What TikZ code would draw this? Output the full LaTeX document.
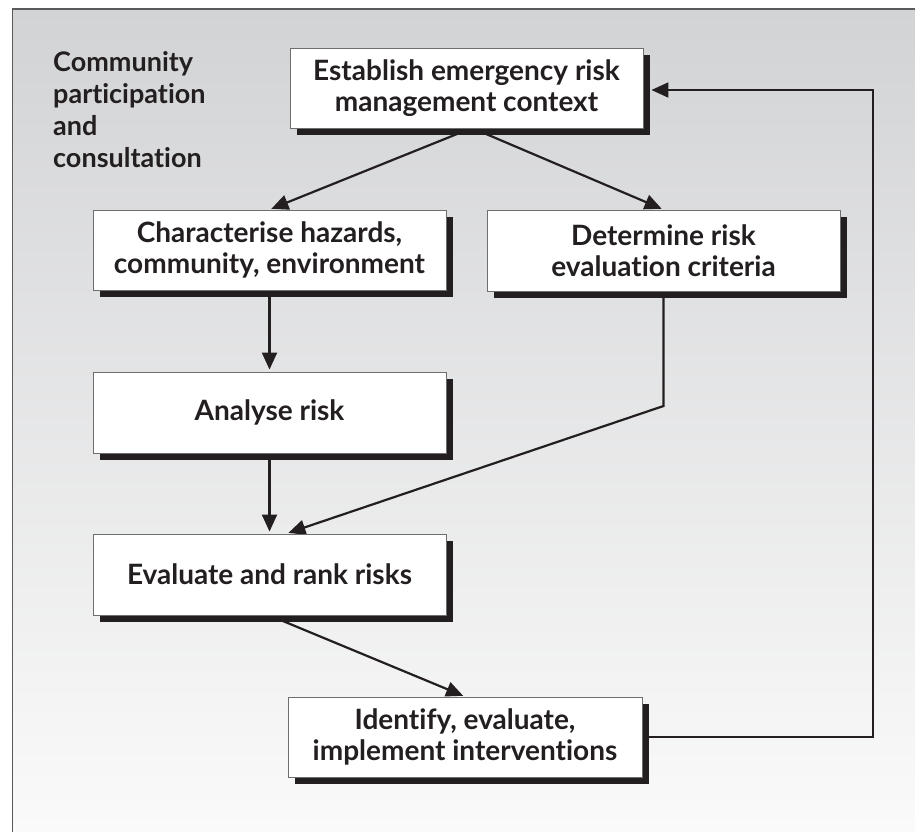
\documentclass[tikz,border=0pt]{standalone}
\usepackage{fontspec}
\setmainfont{Lato}[Ligatures={NoCommon,NoContextual,NoRare}]
\usetikzlibrary{arrows.meta,shadows,calc}
\pgfdeclarelayer{back}
\pgfdeclarelayer{links}
\pgfsetlayers{back,links,main}
\definecolor{bgtop}{RGB}{210,211,213}
\definecolor{bgbot}{RGB}{251,251,251}
\definecolor{ink}{RGB}{35,31,32}
\definecolor{edge}{RGB}{110,110,110}
\definecolor{frame}{RGB}{90,90,90}

\begin{document}
\begin{tikzpicture}[x=1pt,y=-1pt,
  stage/.style={rectangle, draw=edge, line width=0.9pt, fill=white,
    minimum width=353pt, minimum height=80pt, inner sep=0pt,
    align=center, text=ink, font=\fontsize{28}{31}\selectfont\bfseries,
    drop shadow={shadow xshift=7pt, shadow yshift=-7pt, fill=ink, opacity=1}},
  link/.style={draw=ink, line width=2.2pt, -{Triangle[length=17pt,width=15pt]}, shorten >=2pt},
]
\useasboundingbox (0,0) rectangle (915,832);

% process stages
\node[stage] (est) at (466.5,88) {Establish emergency risk\\management context};
\node[stage] (cha) at (269.5,250) {Characterise hazards,\\community, environment};
\node[stage, minimum height=81pt] (det) at (663.5,250.5) {Determine risk\\evaluation criteria};
\node[stage, minimum height=81pt] (ana) at (269.5,412.5) {Analyse risk};
\node[stage, minimum height=81pt] (eva) at (269.5,574.5) {Evaluate and rank risks};
\node[stage, minimum width=354pt] (idf) at (465,737) {Identify, evaluate,\\implement interventions};

% side label
\node[anchor=north west, inner sep=0pt, align=left, text=ink,
  font=\fontsize{27}{32}\selectfont\bfseries] (side) at (53,51)
  {Community\\participation\\and\\consultation};

% shaded panel with frame on top and left
\begin{pgfonlayer}{back}
  \clip (0,0) rectangle (915,832);
  \shade[top color=bgtop, bottom color=bgbot] (12.5,9) rectangle (930,850);
  \draw[frame, line width=1.3pt] (12.5,850) -- (12.5,9) -- (930,9);
\end{pgfonlayer}

% connectors
\begin{pgfonlayer}{links}
  \coordinate (fork) at (472,128);
  \draw[link] (fork) -- (cha.north);
  \draw[link] (fork) -- (det.north);
  \draw[link] (cha.south) -- (ana.north);
  \draw[link] (ana.south) -- (eva.north);
  \coordinate (bend) at (663.5,406);
  \draw[link] (det.south) -- (bend) -- ($(eva.north)+(17,0)$);
  \draw[link] (eva.south) -- (idf.north);
  \coordinate (loop) at (873,90);
  \draw[link, shorten >=8pt] (idf.east) -| (loop) -- (est.east |- loop);
\end{pgfonlayer}
\end{tikzpicture}
\end{document}
